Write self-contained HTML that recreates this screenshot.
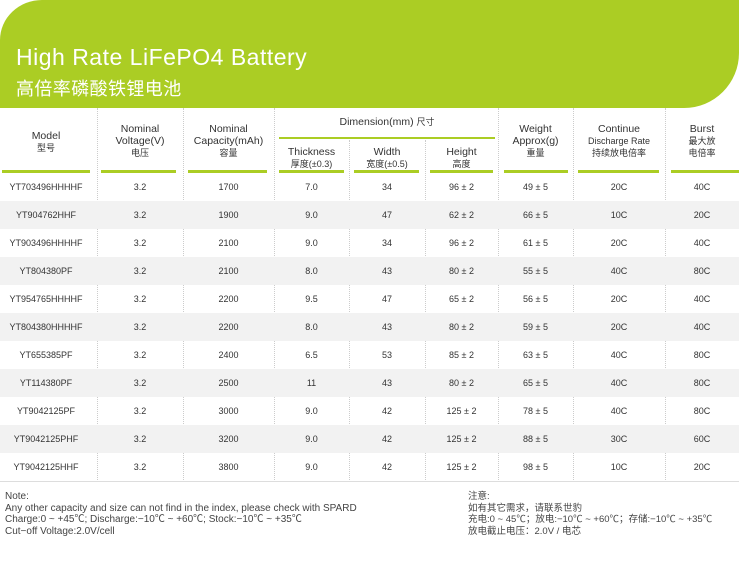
<!DOCTYPE html>
<html><head><meta charset="utf-8"><style>
body{margin:0;width:739px;height:569px;background:#fff;position:relative;overflow:hidden;font-family:"Liberation Sans","Noto Sans CJK SC",sans-serif;color:#333}
.a{position:absolute}
.banner{left:0;top:0;width:739px;height:108px;background:#abcd24;border-radius:42px 0 55px 0/40px 0 55px 0}
.h{position:absolute;text-align:center;font-size:10.5px;line-height:12px;color:#333}
.s{font-size:9px}
.gl{position:absolute;top:170px;height:3px;background:#abcd24}
.vl{position:absolute;top:108px;height:374px;border-left:1px dotted #ccc}
.row{position:absolute;left:0;width:739px;height:28px}
.row div{position:absolute;top:0;line-height:28px;text-align:center;font-size:9px;color:#333}
</style></head><body>
<div class="a banner"></div>
<div class="a" style="left:16px;top:44px;font-size:23px;letter-spacing:0.5px;color:#fff">High Rate LiFePO4 Battery</div>
<div class="a" style="left:16px;top:75px;font-size:18px;letter-spacing:0.4px;color:#fff">高倍率磷酸铁锂电池</div>

<div class="vl" style="left:97px"></div><div class="vl" style="left:183px"></div><div class="vl" style="left:274px"></div><div class="vl" style="left:349px;top:140px;height:342px"></div><div class="vl" style="left:425px;top:140px;height:342px"></div><div class="vl" style="left:498px"></div><div class="vl" style="left:573px"></div><div class="vl" style="left:665px"></div>

<div class="h" style="left:0;width:92px;top:130px">Model<br><span class="s">型号</span></div>
<div class="h" style="left:97px;width:86px;top:123px">Nominal<br>Voltage(V)<br><span class="s">电压</span></div>
<div class="h" style="left:183px;width:91px;top:123px">Nominal<br>Capacity(mAh)<br><span class="s">容量</span></div>
<div class="h" style="left:279px;width:216px;top:116px">Dimension(mm) <span class="s">尺寸</span></div>
<div class="a" style="left:279px;top:137px;width:216px;height:2px;background:#abcd24"></div>
<div class="h" style="left:274px;width:75px;top:146px">Thickness<br><span class="s">厚度(±0.3)</span></div>
<div class="h" style="left:349px;width:76px;top:146px">Width<br><span class="s">宽度(±0.5)</span></div>
<div class="h" style="left:425px;width:73px;top:146px">Height<br><span class="s">高度</span></div>
<div class="h" style="left:498px;width:75px;top:123px">Weight<br>Approx(g)<br><span class="s">重量</span></div>
<div class="h" style="left:573px;width:92px;top:123px">Continue<br><span class="s">Discharge Rate<br>持续放电倍率</span></div>
<div class="h" style="left:665px;width:74px;top:123px">Burst<br><span class="s">最大放<br>电倍率</span></div>

<div class="gl" style="left:2px;width:88px"></div><div class="gl" style="left:101px;width:75px"></div><div class="gl" style="left:188px;width:79px"></div><div class="gl" style="left:279px;width:65px"></div><div class="gl" style="left:354px;width:65px"></div><div class="gl" style="left:430px;width:63px"></div><div class="gl" style="left:504px;width:64px"></div><div class="gl" style="left:578px;width:81px"></div><div class="gl" style="left:671px;width:68px"></div>

<div id="rows"></div>
<script>
var d=[["YT703496HHHHF","1700","7.0","34","96±2","49±5","20C","40C"],["YT904762HHF","1900","9.0","47","62±2","66±5","10C","20C"],["YT903496HHHHF","2100","9.0","34","96±2","61±5","20C","40C"],["YT804380PF","2100","8.0","43","80±2","55±5","40C","80C"],["YT954765HHHHF","2200","9.5","47","65±2","56±5","20C","40C"],["YT804380HHHHF","2200","8.0","43","80±2","59±5","20C","40C"],["YT655385PF","2400","6.5","53","85±2","63±5","40C","80C"],["YT114380PF","2500","11","43","80±2","65±5","40C","80C"],["YT9042125PF","3000","9.0","42","125±2","78±5","40C","80C"],["YT9042125PHF","3200","9.0","42","125±2","88±5","30C","60C"],["YT9042125HHF","3800","9.0","42","125±2","98±5","10C","20C"]];
var c=[[0,92],[97,86],[183,91],[274,75],[349,76],[425,73],[498,75],[573,92],[665,74]];
var h="";d.forEach(function(r,i){var v=[r[0],"3.2"].concat(r.slice(1));h+='<div class="row" style="top:'+(173+28*i)+'px;background:'+(i%2?'#f2f2f2':'transparent')+'">';v.forEach(function(t,j){h+='<div style="left:'+c[j][0]+'px;width:'+c[j][1]+'px">'+t.replace('±',' ± ')+'</div>';});h+='</div>';});
document.getElementById('rows').innerHTML=h;
</script>
<div class="a" style="left:0;top:481px;width:739px;height:1px;background:#ddd"></div>
<div class="a" style="left:5px;top:491px;font-size:10px;line-height:11.5px;color:#444">Note:<br>Any other capacity and size can not find in the index, please check with SPARD<br>Charge:0 ~ +45℃; Discharge:−10℃ ~ +60℃; Stock:−10℃ ~ +35℃<br>Cut−off Voltage:2.0V/cell</div>
<div class="a" style="left:468px;top:491px;font-size:9.5px;line-height:11.5px;color:#444">注意:<br>如有其它需求，请联系世豹<br>充电:0 ~ 45℃；放电:−10℃ ~ +60℃；存储:−10℃ ~ +35℃<br>放电截止电压：2.0V / 电芯</div>
</body></html>
